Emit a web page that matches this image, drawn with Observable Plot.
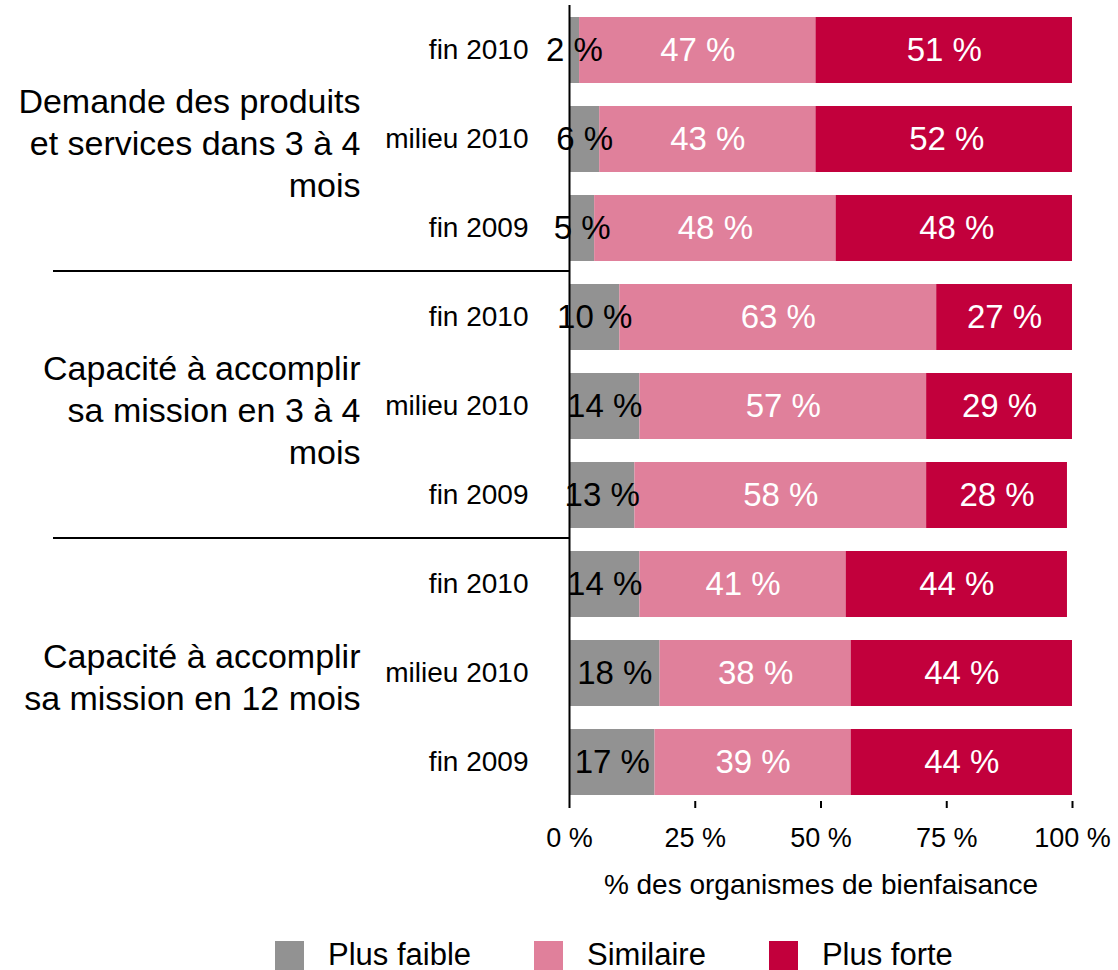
<!DOCTYPE html>
<html><head><meta charset="utf-8">
<script src="https://cdn.jsdelivr.net/npm/d3@7"></script>
<script src="https://cdn.jsdelivr.net/npm/@observablehq/plot@0.6"></script>
<style>
body{margin:0;background:#fff;font-family:"Liberation Sans",Arial,Helvetica,sans-serif;}
#legend{display:flex;align-items:center;padding-left:275px;gap:63px;margin-top:10px;height:30px;font-size:31px;color:#000;}
.item{display:flex;align-items:center;gap:24px;}
.sw{width:29px;height:29px;display:inline-block;}
</style>
</head><body>
<div id="chart"></div>
<div id="legend"></div>
<script>
const periods = ["fin 2010", "milieu 2010", "fin 2009"];
const groups = [
  "Demande des produits\net services dans 3 à 4\nmois",
  "Capacité à accomplir\nsa mission en 3 à 4\nmois",
  "Capacité à accomplir\nsa mission en 12 mois"
];
const categories = ["Plus faible", "Similaire", "Plus forte"];
const colors = ["#929292", "#e0809b", "#c2003c"];
const plusFaible = [2, 6, 5, 10, 14, 13, 14, 18, 17];
const similaire  = [47, 43, 48, 63, 57, 58, 41, 38, 39];
const plusForte  = [51, 52, 48, 27, 29, 28, 44, 44, 44];
const xTicks = [0, 25, 50, 75, 100];
const axisTitle = "% des organismes de bienfaisance";

const series = [plusFaible, similaire, plusForte];
const rows = groups.flatMap((g, gi) => periods.map((p, pi) => `${gi}|${p}`));
const table = rows.flatMap((key, i) => categories.map((c, j) => ({key, cat: c, value: series[j][i]})));
const sepKeys = [rows[2], rows[5]];
const groupRows = groups.map((g, gi) => ({label: g, key: rows[gi * 3 + 1]}));

const W = 1118, H = 930, mL = 569, mR = 46, mT = 5, mB = 122;
const frameH = H - mT - mB;
const step = frameH / (rows.length - 0.258 + 0.28);

const chart = Plot.plot({
  width: W, height: H,
  marginLeft: mL, marginRight: mR, marginTop: mT, marginBottom: mB,
  style: {fontFamily: '"Liberation Sans", Arial, Helvetica, sans-serif', fontSize: "28px", background: "#fff", color: "#000"},
  x: {domain: [0, 100]},
  y: {domain: rows, paddingInner: 0.258, paddingOuter: 0.14},
  color: {domain: categories, range: colors},
  marks: [
    Plot.barX(table, Plot.stackX({x: "value", y: "key", fill: "cat", clip: true})),
    Plot.text(table, Plot.stackX({x: "value", y: "key", z: "cat",
      text: d => d.cat === categories[0] ? `${d.value} %` : "", fill: "#000", fontSize: 33})),
    Plot.text(table, Plot.stackX({x: "value", y: "key", z: "cat",
      text: d => d.cat !== categories[0] ? `${d.value} %` : "", fill: "#fff", fontSize: 33})),
    Plot.ruleX([0], {strokeWidth: 2}),
    Plot.tickX(xTicks.slice(1), {x: d => d, strokeWidth: 2, insetTop: frameH - 7}),
    Plot.axisX({ticks: xTicks, tickSize: 0, tickPadding: 19, line: true, strokeWidth: 2,
      tickFormat: d => `${d} %`, fontSize: 27, label: null}),
    Plot.axisY({tickSize: 0, tickPadding: 41, fontSize: 28, label: null,
      tickFormat: k => k.split("|")[1]}),
    Plot.text(groupRows, {y: "key", text: "label", frameAnchor: "left", dx: -209, dy: 2,
      textAnchor: "end", fontSize: 34, lineHeight: 1.24}),
    Plot.ruleY(sepKeys, {y: d => d, dy: step / 2 - 2, insetLeft: 53 - mL, insetRight: (W - mR) - mL, strokeWidth: 2}),
    Plot.text([axisTitle], {text: d => d, frameAnchor: "bottom", dy: 85, fontSize: 28})
  ]
});
document.getElementById("chart").appendChild(chart);

const legend = document.getElementById("legend");
categories.forEach((c, i) => {
  const it = document.createElement("div");
  it.className = "item";
  const sw = document.createElement("span");
  sw.className = "sw";
  sw.style.background = colors[i];
  const t = document.createElement("span");
  t.textContent = c;
  it.appendChild(sw); it.appendChild(t);
  legend.appendChild(it);
});
</script>
</body></html>
